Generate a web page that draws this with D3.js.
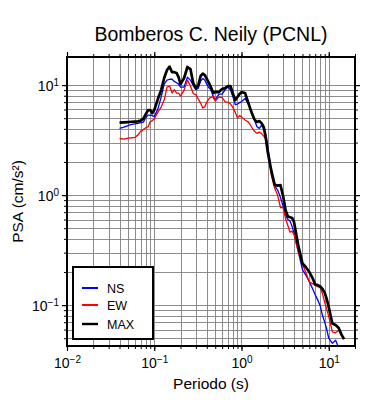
<!DOCTYPE html>
<html>
<head>
<meta charset="utf-8">
<script src="https://cdn.jsdelivr.net/npm/d3@7"></script>
<style>
  body { margin: 0; background: #fff; }
  text { font-family: 'Liberation Sans', Arial, sans-serif; }
</style>
</head>
<body>
<div id="chart"></div>
<script>
// periods (s) and PSA values (cm/s2)
const periods = [0.04, 0.045, 0.05, 0.055, 0.06, 0.065, 0.07, 0.075, 0.08, 0.085, 0.09, 0.095,
  0.1, 0.11, 0.12, 0.13, 0.14, 0.15, 0.16, 0.17, 0.18, 0.19, 0.2, 0.22, 0.24, 0.26, 0.28,
  0.3, 0.32, 0.34, 0.36, 0.38, 0.4, 0.42, 0.44, 0.46, 0.48, 0.5, 0.55, 0.6, 0.65, 0.7, 0.75,
  0.8, 0.85, 0.9, 0.95, 1.0, 1.1, 1.2, 1.3, 1.4, 1.5, 1.6, 1.7, 1.8, 1.9, 2.0, 2.2, 2.4, 2.6,
  2.8, 3.0, 3.2, 3.4, 3.6, 3.8, 4.0, 4.5, 5.0, 5.5, 6.0, 6.5, 7.0, 7.5, 8.0, 8.5, 9.0, 9.5,
  10, 11, 12, 13, 14, 15]

const ns = [4.04, 4.15, 4.28, 4.39, 4.44, 4.49, 4.55, 4.61, 5.07, 5.34, 5.34, 5.28,
  5.17, 6.05, 7.78, 10.2, 11.1, 11.3, 11.3, 10.8, 10.5, 10.2, 9.6, 9.6, 11.8, 11.1, 9.9,
  9.1, 9.39, 10.9, 11.5, 11.1, 10.2, 9.5, 9.2, 8.46, 7.54, 7.31, 8.28, 8.28, 9.1, 9.6, 9.0,
  7.78, 6.65, 6.72, 6.93, 7.08, 7.54, 6.72, 5.68, 4.86, 4.2, 4.04, 4.33, 3.98, 3.55, 2.79, 1.62, 1.21, 1.11,
  0.95, 0.79, 0.66, 0.6, 0.58, 0.52, 0.45, 0.3, 0.21, 0.185, 0.163, 0.142, 0.124, 0.111, 0.098, 0.08, 0.07, 0.06,
  0.05, 0.045, 0.048, 0.041, 0.035, 0.032]

const ew = [3.27, 3.23, 3.3, 3.32, 3.35, 3.51, 3.82, 3.94, 4.1, 4.18, 4.66, 4.76,
  4.91, 5.68, 6.31, 7.31, 9.6, 9.8, 8.46, 9.1, 8.46, 8.46, 7.94, 9.0, 11.1, 9.8, 8.37,
  8.2, 7.46, 6.86, 6.18, 6.37, 7.0, 7.46, 7.7, 7.78, 7.94, 7.15, 7.78, 7.7, 7.05, 7.0, 6.72,
  6.24, 5.62, 5.01, 5.28, 5.14, 4.81, 4.61, 4.18, 3.82, 3.64, 3.74, 3.62, 3.44, 3.23, 2.64, 1.52, 1.16, 0.99,
  0.77, 0.77, 0.61, 0.53, 0.46, 0.47, 0.44, 0.3, 0.236, 0.195, 0.162, 0.157, 0.152, 0.147, 0.143, 0.126, 0.106, 0.091,
  0.079, 0.057, 0.056, 0.059, 0.053, 0.049]

const maxv = [4.55, 4.58, 4.61, 4.64, 4.66, 4.68, 4.76, 4.96, 5.45, 5.93, 5.93, 5.56,
  5.93, 7.46, 9.0, 11.6, 13.7, 14.7, 13.1, 13.1, 12.9, 11.8, 10.2, 11.6, 14.6, 14.0, 10.4,
  9.39, 10.0, 12.1, 12.7, 12.3, 11.4, 10.6, 9.8, 9.0, 8.46, 8.69, 8.64, 9.2, 9.39, 9.8, 9.8,
  8.28, 7.31, 7.78, 8.28, 8.64, 8.46, 6.86, 5.68, 4.91, 4.61, 4.71, 4.51, 4.15, 3.3, 2.46, 1.66, 1.24, 1.22,
  1.23, 0.98, 0.73, 0.64, 0.63, 0.62, 0.57, 0.34, 0.24, 0.22, 0.2, 0.177, 0.154, 0.152, 0.148, 0.14, 0.129, 0.113,
  0.096, 0.068, 0.066, 0.062, 0.054, 0.049]

const series = [
  { name: 'NS', values: ns, color: '#0000ff', width: 1.3 },
  { name: 'EW', values: ew, color: '#ff0000', width: 1.3 },
  { name: 'MAX', values: maxv, color: '#000000', width: 2.7 }
]

const xMajors = [0.01, 0.1, 1, 10]
const yMajors = [0.1, 1, 10]

const width = 390
const height = 400
const pL = 67, pR = 355, pT = 57, pB = 346

const x = d3.scaleLog().domain([0.01, 20]).range([pL, pR])
const y = d3.scaleLog().domain([0.0425, 18]).range([pB, pT])

const svg = d3.select('#chart').append('svg')
  .attr('width', width)
  .attr('height', height)

svg.append('defs').append('clipPath').attr('id', 'plot')
  .append('rect')
  .attr('x', pL).attr('y', pT)
  .attr('width', pR - pL).attr('height', pB - pT)

// grid
const xGrid = x.ticks().filter(d => d > 0.01 && d < 20)
const yGrid = y.ticks().filter(d => d > 0.0425 && d < 18)

svg.append('g').selectAll('line').data(xGrid).enter()
  .append('line')
  .attr('x1', d => Math.round(x(d)) + 0.5).attr('x2', d => Math.round(x(d)) + 0.5)
  .attr('y1', pT).attr('y2', pB)
  .style('stroke', '#808080').style('stroke-width', 0.9)

svg.append('g').selectAll('line').data(yGrid).enter()
  .append('line')
  .attr('y1', d => Math.round(y(d)) + 0.5).attr('y2', d => Math.round(y(d)) + 0.5)
  .attr('x1', pL).attr('x2', pR)
  .style('stroke', '#808080').style('stroke-width', 0.9)

// curves
const line = d3.line()
  .x((d, i) => x(periods[i]))
  .y(d => y(d))

svg.append('g').attr('clip-path', 'url(#plot)')
  .selectAll('path').data(series).enter()
  .append('path')
  .attr('d', d => line(d.values))
  .style('fill', 'none')
  .style('stroke', d => d.color)
  .style('stroke-width', d => d.width)
  .style('stroke-linejoin', 'round')

// axes: minor ticks, then major ticks with labels
function sup(sel) {
  sel.selectAll('text').each(function (d) {
    const e = Math.round(Math.log10(d))
    const t = d3.select(this).text('')
    t.append('tspan').text('10')
    t.append('tspan').attr('dy', '-0.55em').style('font-size', '10px')
      .text(e < 0 ? '\u2212' + (-e) : e)
  })
}

const xMinor = x.ticks().filter(d => d >= 0.01 && d <= 20)
const yMinor = y.ticks().filter(d => d >= 0.0425 && d <= 18)

const axes = [
  { axis: d3.axisBottom(x), pos: `translate(0,${pB})`, minor: xMinor, major: xMajors, label: 'x' },
  { axis: d3.axisTop(x), pos: `translate(0,${pT})`, minor: xMinor, major: xMajors, label: null },
  { axis: d3.axisLeft(y), pos: `translate(${pL},0)`, minor: yMinor, major: yMajors, label: 'y' },
  { axis: d3.axisRight(y), pos: `translate(${pR},0)`, minor: yMinor, major: yMajors, label: null }
]

axes.forEach(a => {
  svg.append('g').attr('transform', a.pos)
    .call(a.axis.tickValues(a.minor).tickSize(3).tickFormat(''))
    .call(g => g.select('.domain').remove())
    .selectAll('line').style('stroke-width', 1)
  const g = svg.append('g').attr('transform', a.pos)
    .call(a.axis.tickValues(a.major).tickSize(5).tickFormat(a.label ? d => d : ''))
    .call(g => g.select('.domain').remove())
  g.selectAll('line').style('stroke-width', 1.2)
  g.selectAll('text').style('font-size', '14px').style('fill', '#000')
    .style('font-family', "'Liberation Sans', Arial, sans-serif")
  if (a.label) sup(g)
  if (a.label === 'x') g.selectAll('text').attr('y', 22).attr('dy', null)
  if (a.label === 'y') g.selectAll('text').attr('x', -8).attr('dy', '0.4em')
})

// frame
svg.append('rect')
  .attr('x', pL).attr('y', pT)
  .attr('width', pR - pL).attr('height', pB - pT)
  .style('fill', 'none').style('stroke', '#000').style('stroke-width', 2)

// titles
svg.append('text')
  .attr('x', (pL + pR) / 2).attr('y', 41)
  .attr('text-anchor', 'middle')
  .style('font-size', '19.5px')
  .text('Bomberos C. Neily (PCNL)')

svg.append('text')
  .attr('x', (pL + pR) / 2).attr('y', 389)
  .attr('text-anchor', 'middle')
  .style('font-size', '15.5px')
  .text('Periodo (s)')

svg.append('text')
  .attr('transform', `translate(23,${(pT + pB) / 2}) rotate(-90)`)
  .attr('text-anchor', 'middle')
  .style('font-size', '15.5px')
  .text('PSA (cm/s\u00b2)')

// legend
const lg = svg.append('g')
lg.append('rect')
  .attr('x', 73).attr('y', 267).attr('width', 80).attr('height', 72)
  .style('fill', '#fff').style('stroke', '#000').style('stroke-width', 2)

const item = lg.selectAll('g.item').data(series).enter()
  .append('g')
  .classed('item', true)
  .attr('transform', (d, i) => `translate(82,${[288, 305, 324][i]})`)

item.append('line')
  .attr('x1', 0).attr('x2', 16)
  .style('stroke', d => d.color)
  .style('stroke-width', d => d.name === 'MAX' ? 2.4 : 2)

item.append('text')
  .attr('x', 25).attr('dy', 4.5)
  .style('font-size', '12.5px')
  .text(d => d.name)
</script>
</body>
</html>
